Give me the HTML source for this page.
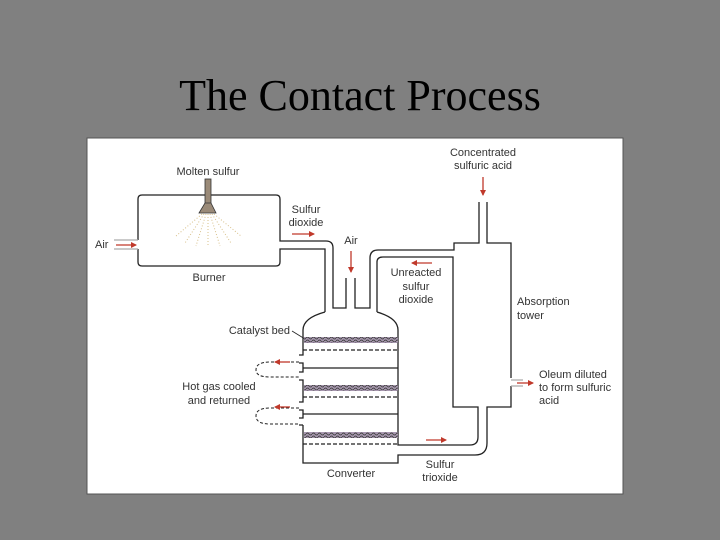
<!DOCTYPE html>
<html><head><style>
html,body{margin:0;padding:0;background:#808080;}
svg{display:block;}
</style></head><body>
<svg width="720" height="540" viewBox="0 0 720 540" xmlns="http://www.w3.org/2000/svg">
<rect width="720" height="540" fill="#808080"/>
<text x="360" y="110" text-anchor="middle" font-family="Liberation Serif, serif" font-size="44" fill="#000">The Contact Process</text>
<rect x="87" y="138" width="536" height="356" fill="#fff" stroke="#555" stroke-width="1"/>
<defs>
<marker id="ah" markerWidth="6" markerHeight="6" refX="5" refY="3" orient="auto" markerUnits="userSpaceOnUse">
<path d="M0,0 L6,3 L0,6 z" fill="#c0392b"/></marker>
<pattern id="cat" width="6" height="6" patternUnits="userSpaceOnUse">
<rect width="6" height="6" fill="#a898b0"/><path d="M0,2 Q1.5,0 3,2 T6,2 M0,5 Q1.5,3 3,5 T6,5" stroke="#444" stroke-width="0.9" fill="none"/>
</pattern>
</defs>
<g fill="none" stroke="#222" stroke-width="1.3">
<path d="M138,240 V199 Q138,195 142,195 H276 Q280,195 280,199 V241 H326 Q333,241 333,248 V308 H346 V278"/>
<path d="M138,249 V262 Q138,266 142,266 H276 Q280,266 280,262 V249 H325 V312"/>
<path d="M114,240 H138 M114,249 H138" stroke="#aaa"/>
<path d="M355,278 V308 H370 V258 Q370,250 378,250 H454 V243 H479 V202"/>
<path d="M487,202 V243 H511 V378 M511,386 V407 H487 V443 Q487,455 475,455 H398 V463 H303 V425"/>
<path d="M511,380 H523 M511,386 H523" stroke="#aaa"/>
<path d="M377,312 V262 Q377,257 383,257 H453 V407 H478 V437 Q478,445 470,445 H398 V330 Q398,318 377,312"/>
<path d="M325,312 Q303,318 303,330 V355 H299 M299,363 H303 V372 H299 M299,380 H303 V402 H299 M299,410 H303 V418 H299 M299,425 H303"/>
<path d="M303,368 H398 M303,414 H398"/>
<path d="M303,350 H398 M303,397 H398 M303,444 H398" stroke-dasharray="4,2"/>
<path d="M299,362 H270 Q256,362 256,370 Q256,377 270,377 H299 M299,408 H270 Q256,408 256,416 Q256,424 270,424 H299" stroke-dasharray="3,2" stroke-width="1"/>
<path d="M292,331 L305,339" stroke-width="0.8"/>
</g>
<rect x="304" y="337" width="94" height="6" fill="url(#cat)"/>
<rect x="304" y="385" width="94" height="6" fill="url(#cat)"/>
<rect x="304" y="432" width="94" height="6" fill="url(#cat)"/>
<rect x="205" y="179" width="6" height="25" fill="#9a8a78" stroke="#333" stroke-width="0.8"/>
<path d="M205,203 H211 L216,213 H199 Z" fill="#9a8a78" stroke="#333" stroke-width="0.8"/>
<g stroke="#d8c08a" stroke-width="1" stroke-dasharray="1,2">
<path d="M202,214 L176,236 M204,214 L185,243 M206,214 L196,246 M208,214 L208,247 M210,214 L220,246 M212,214 L231,243 M214,214 L241,236"/>
</g>
<g stroke="#c0392b" stroke-width="1.3" marker-end="url(#ah)">
<path d="M116,245 H136"/>
<path d="M292,234 H314"/>
<path d="M351,251 V272"/>
<path d="M483,177 V195"/>
<path d="M432,263 H412"/>
<path d="M290,362 H275"/>
<path d="M290,407 H275"/>
<path d="M426,440 H446"/>
<path d="M517,383 H533"/>
</g>
<g font-family="Liberation Sans, sans-serif" font-size="11" fill="#333">
<text x="208" y="175" text-anchor="middle">Molten sulfur</text>
<text x="306" y="213" text-anchor="middle">Sulfur</text>
<text x="306" y="226" text-anchor="middle">dioxide</text>
<text x="95" y="248">Air</text>
<text x="351" y="244" text-anchor="middle">Air</text>
<text x="209" y="281" text-anchor="middle">Burner</text>
<text x="483" y="156" text-anchor="middle">Concentrated</text>
<text x="483" y="169" text-anchor="middle">sulfuric acid</text>
<text x="416" y="276" text-anchor="middle">Unreacted</text>
<text x="416" y="290" text-anchor="middle">sulfur</text>
<text x="416" y="303" text-anchor="middle">dioxide</text>
<text x="517" y="305">Absorption</text>
<text x="517" y="319">tower</text>
<text x="290" y="334" text-anchor="end">Catalyst bed</text>
<text x="219" y="390" text-anchor="middle">Hot gas cooled</text>
<text x="219" y="404" text-anchor="middle">and returned</text>
<text x="539" y="378">Oleum diluted</text>
<text x="539" y="391">to form sulfuric</text>
<text x="539" y="404">acid</text>
<text x="351" y="477" text-anchor="middle">Converter</text>
<text x="440" y="468" text-anchor="middle">Sulfur</text>
<text x="440" y="481" text-anchor="middle">trioxide</text>
</g>
</svg>
</body></html>
